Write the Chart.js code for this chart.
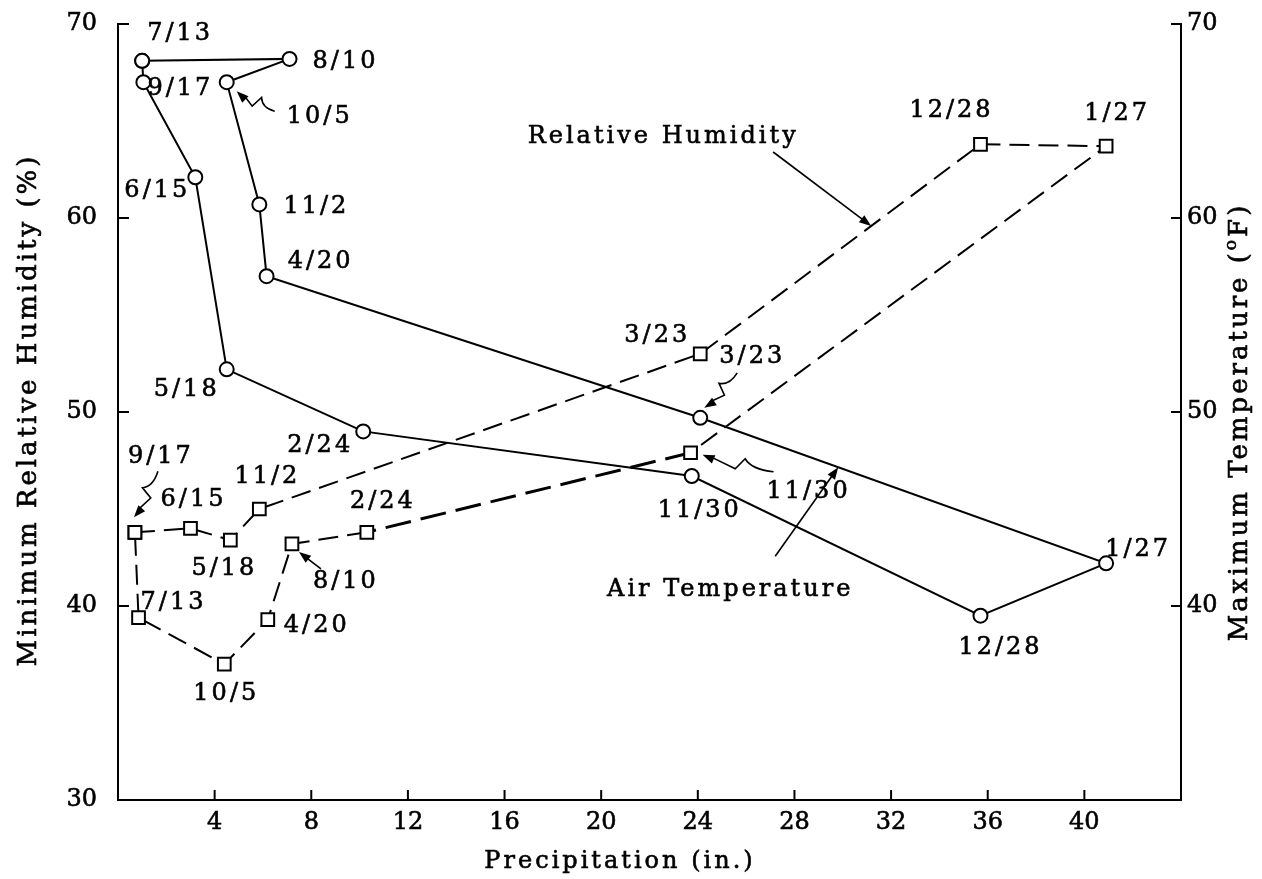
<!DOCTYPE html>
<html lang="en">
<head>
<meta charset="utf-8">
<title>Relative humidity and air temperature against precipitation</title>
<script src="https://cdn.jsdelivr.net/npm/chart.js@4.4.1/dist/chart.umd.min.js"></script>
<style>
  html, body { margin: 0; padding: 0; background: #fff; }
  canvas { display: block; }
</style>
</head>
<body>
<canvas id="chart" width="1262" height="879"></canvas>
<script>
// sampling dates
const dates = ['3/23', '4/20', '5/18', '6/15', '7/13', '8/10', '9/17', '10/5', '11/2', '11/30', '12/28', '1/27', '2/24'];

// minimum relative humidity (%), squares on a dashed line, left axis
const humidityPrecip = [24.1, 6.2, 4.65, 3.0, 0.85, 7.2, 0.7, 4.4, 5.85, 23.7, 35.7, 40.9, 10.3];
const humidity = [53.0, 39.3, 43.4, 44.0, 39.4, 43.2, 43.8, 37.0, 45.0, 47.9, 63.8, 63.7, 43.8];

// maximum air temperature (F), circles on a solid line, right axis
const temperaturePrecip = [24.1, 6.15, 4.5, 3.2, 1.0, 7.1, 1.05, 4.5, 5.85, 23.75, 35.7, 40.9, 10.15];
const temperature = [49.7, 57.0, 52.2, 62.1, 68.1, 68.2, 67.0, 67.0, 60.7, 46.7, 39.5, 42.2, 49.0];

// order in which the points are joined on the figure
const humidityPath = ['9/17', '6/15', '5/18', '11/2', '3/23', '12/28', '1/27', '11/30', '2/24', '8/10', '4/20', '10/5', '7/13', '9/17'];
const temperaturePath = ['7/13', '8/10', '10/5', '11/2', '4/20', '3/23', '1/27', '12/28', '11/30', '2/24', '5/18', '6/15', '9/17', '7/13'];

// tick labels
const precipTicks = [4, 8, 12, 16, 20, 24, 28, 32, 36, 40];
const humidityTicks = [30, 40, 50, 60, 70];
const temperatureTicks = [40, 50, 60, 70];

const FONT = '"DejaVu Serif", "Liberation Serif", serif';

// where each date label sits relative to its marker (px)
const humidityLabelOffsets = {
    '9/17': [26, -76], '6/15': [3, -29], '5/18': [-6, 29], '11/2': [8, -32],
    '7/13': [35, -15], '10/5': [2, 30], '4/20': [49, 6], '8/10': [54, 38],
    '2/24': [16, -31], '3/23': [-43, -18], '11/30': [118, 39], '12/28': [-29, -34], '1/27': [11, -32]
};
const temperatureLabelOffsets = {
    '7/13': [38, -27], '8/10': [56, 3], '9/17': [37, 7], '10/5': [93, 35],
    '6/15': [-38, 14], '11/2': [57, 2], '4/20': [54, -14], '5/18': [-40, 20],
    '2/24': [-43, 14], '3/23': [52, -61], '11/30': [8, 35], '12/28': [20, 32], '1/27': [32, -14]
};

// small pointers from a label to its marker, offsets from the marker
const pointers = [
    { series: 'temperature', date: '10/5', from: [48, 29], to: [10, 9], squiggle: true },
    { series: 'temperature', date: '3/23', from: [37, -45], to: [4, -10], squiggle: true },
    { series: 'humidity', date: '9/17', from: [23, -61], to: [-1, -15], squiggle: true },
    { series: 'humidity', date: '8/10', from: [29, 25], to: [7, 8], squiggle: false },
    { series: 'humidity', date: '11/30', from: [83, 19], to: [12, 2], squiggle: true }
];

// series names with an arrow to a point part way along one segment
const callouts = [
    { text: 'Relative Humidity', series: 'humidity', a: '3/23', b: '12/28', t: 0.61, label: [-208, -89], tail: [-98, -74] },
    { text: 'Air Temperature', series: 'temperature', a: '3/23', b: '1/27', t: 0.34, label: [-108, 122], tail: [-63, 89] }
];

function pathPoints(path, xs, ys) {
    return path.map(d => {
        const i = dates.indexOf(d);
        return { x: xs[i], y: ys[i] };
    });
}

function markerPixel(chart, series, date) {
    const i = dates.indexOf(date);
    if (series === 'humidity') {
        return { x: chart.scales.x.getPixelForValue(humidityPrecip[i]), y: chart.scales.y.getPixelForValue(humidity[i]) };
    }
    return { x: chart.scales.x.getPixelForValue(temperaturePrecip[i]), y: chart.scales.y2.getPixelForValue(temperature[i]) };
}

function arrowHead(ctx, from, to) {
    const ang = Math.atan2(to.y - from.y, to.x - from.x);
    const len = 12, half = 4.5;
    ctx.beginPath();
    ctx.moveTo(to.x, to.y);
    ctx.lineTo(to.x - len * Math.cos(ang) + half * Math.sin(ang), to.y - len * Math.sin(ang) - half * Math.cos(ang));
    ctx.lineTo(to.x - len * Math.cos(ang) - half * Math.sin(ang), to.y - len * Math.sin(ang) + half * Math.cos(ang));
    ctx.closePath();
    ctx.fill();
}

function drawArrow(ctx, from, to, squiggle) {
    const dx = to.x - from.x, dy = to.y - from.y;
    const d = Math.hypot(dx, dy);
    const nx = -dy / d, ny = dx / d;
    ctx.beginPath();
    ctx.moveTo(from.x, from.y);
    let last = from;
    if (squiggle) {
        const a = { x: from.x + dx * 0.42 + nx * 6, y: from.y + dy * 0.42 + ny * 6 };
        const b = { x: from.x + dx * 0.52 - nx * 6, y: from.y + dy * 0.52 - ny * 6 };
        ctx.quadraticCurveTo(from.x + dx * 0.3 - nx * 3, from.y + dy * 0.3 - ny * 3, a.x, a.y);
        ctx.lineTo(b.x, b.y);
        last = b;
    }
    const end = { x: to.x - dx / d * 8, y: to.y - dy / d * 8 };
    ctx.lineTo(end.x, end.y);
    ctx.stroke();
    arrowHead(ctx, last, to);
}

// typewritten text on the scan is a little heavier than the plain font
function inkText(ctx, text, x, y) {
    ctx.fillText(text, x, y);
    ctx.strokeText(text, x, y);
}

const annotate = {
    id: 'annotate',
    afterDatasetsDraw(chart) {
        const ctx = chart.ctx;
        const { left, right, top, bottom } = chart.chartArea;
        const { x, y, y2 } = chart.scales;
        ctx.save();
        ctx.fillStyle = '#000';
        ctx.strokeStyle = '#000';
        ctx.lineCap = 'butt';

        // inward tick marks
        ctx.lineWidth = 2;
        ctx.beginPath();
        precipTicks.forEach(v => {
            const px = x.getPixelForValue(v);
            ctx.moveTo(px, bottom);
            ctx.lineTo(px, bottom - 10);
        });
        humidityTicks.filter(v => v > 30).forEach(v => {
            const py = y.getPixelForValue(v);
            ctx.moveTo(left, py);
            ctx.lineTo(left + 11, py);
        });
        temperatureTicks.forEach(v => {
            const py = y2.getPixelForValue(v);
            ctx.moveTo(right, py);
            ctx.lineTo(right - 10, py);
        });
        ctx.stroke();

        ctx.letterSpacing = '3px';
        ctx.textBaseline = 'middle';
        ctx.textAlign = 'center';
        ctx.font = '24px ' + FONT;
        ctx.lineWidth = 0.6;

        // date labels
        dates.forEach(d => {
            [['humidity', humidityLabelOffsets], ['temperature', temperatureLabelOffsets]].forEach(([s, offs]) => {
                const p = markerPixel(chart, s, d);
                const o = offs[d];
                inkText(ctx, d, p.x + o[0], p.y + o[1]);
            });
        });

        // series callouts
        const tips = callouts.map(c => {
            const pa = markerPixel(chart, c.series, c.a);
            const pb = markerPixel(chart, c.series, c.b);
            const tip = { x: pa.x + (pb.x - pa.x) * c.t, y: pa.y + (pb.y - pa.y) * c.t };
            inkText(ctx, c.text, tip.x + c.label[0], tip.y + c.label[1]);
            return tip;
        });

        // axis titles
        ctx.textBaseline = 'alphabetic';
        inkText(ctx, 'Precipitation (in.)', left + 502, bottom + 68);

        ctx.save();
        ctx.translate(left - 82, (top + bottom) / 2 - 2);
        ctx.rotate(-Math.PI / 2);
        ctx.font = '26px ' + FONT;
        inkText(ctx, 'Minimum Relative Humidity (%)', 0, 0);
        ctx.restore();

        ctx.save();
        ctx.translate(right + 66, (top + bottom) / 2 + 10);
        ctx.rotate(-Math.PI / 2);
        ctx.textAlign = 'left';
        const big = '26px ' + FONT, small = '17px ' + FONT;
        ctx.font = big;
        const w1 = ctx.measureText('Maximum Temperature (').width;
        const w3 = ctx.measureText('F)').width;
        ctx.font = small;
        const w2 = ctx.measureText('o').width;
        const sx = -(w1 + w2 + w3) / 2;
        ctx.font = big;
        inkText(ctx, 'Maximum Temperature (', sx, 0);
        ctx.font = small;
        inkText(ctx, 'o', sx + w1, -11);
        ctx.font = big;
        inkText(ctx, 'F)', sx + w1 + w2, 0);
        ctx.restore();

        // arrows
        ctx.lineWidth = 1.6;
        pointers.forEach(a => {
            const p = markerPixel(chart, a.series, a.date);
            drawArrow(ctx, { x: p.x + a.from[0], y: p.y + a.from[1] }, { x: p.x + a.to[0], y: p.y + a.to[1] }, a.squiggle);
        });
        callouts.forEach((c, i) => {
            const tip = tips[i];
            drawArrow(ctx, { x: tip.x + c.tail[0], y: tip.y + c.tail[1] }, tip, false);
        });

        ctx.restore();
    }
};

const tickFont = { family: FONT, size: 24 };
const tickStyle = { font: tickFont, color: '#000', textStrokeColor: '#000', textStrokeWidth: 0.6, autoSkip: false };
const axisBorder = { display: true, color: '#000', width: 2 };

function fixVertical(width) {
    return s => {
        s.width = width;
        s.paddingTop = 0;
        s.paddingBottom = 0;
    };
}

function heavyStretch(c) {
    const pair = [humidityPath[c.p0DataIndex], humidityPath[c.p1DataIndex]];
    return pair.includes('11/30') && pair.includes('2/24');
}

new Chart(document.getElementById('chart'), {
    type: 'scatter',
    data: {
        datasets: [
            {
                label: 'Air Temperature',
                data: pathPoints(temperaturePath, temperaturePrecip, temperature),
                yAxisID: 'y2',
                showLine: true,
                borderColor: '#000',
                borderWidth: 2,
                pointStyle: 'circle',
                pointRadius: 7,
                pointBorderWidth: 2,
                pointBorderColor: '#000',
                pointBackgroundColor: '#fff'
            },
            {
                label: 'Relative Humidity',
                data: pathPoints(humidityPath, humidityPrecip, humidity),
                yAxisID: 'y',
                showLine: true,
                borderColor: '#000',
                borderWidth: 2,
                borderDash: [20, 9],
                // the 2/24 to 11/30 stretch is inked heavier on the figure
                segment: {
                    borderWidth: c => heavyStretch(c) ? 3 : undefined,
                    borderDash: c => heavyStretch(c) ? [26, 10] : undefined
                },
                pointStyle: 'rect',
                pointRadius: 9,
                pointBorderWidth: 2,
                pointBorderColor: '#000',
                pointBackgroundColor: '#fff'
            }
        ]
    },
    options: {
        responsive: false,
        animation: false,
        devicePixelRatio: 1,
        layout: { padding: { top: 24, right: 0, bottom: 0, left: 0 } },
        plugins: {
            legend: { display: false },
            tooltip: { enabled: false }
        },
        scales: {
            x: {
                type: 'linear',
                position: 'bottom',
                min: 0,
                max: 44,
                afterBuildTicks: s => { s.ticks = precipTicks.map(v => ({ value: v })); },
                afterFit: s => { s.height = 79; s.paddingLeft = 0; s.paddingRight = 0; },
                ticks: { ...tickStyle, padding: 8, maxRotation: 0 },
                grid: { display: false, drawTicks: false },
                border: axisBorder
            },
            y: {
                type: 'linear',
                position: 'left',
                min: 30,
                max: 70,
                afterBuildTicks: s => { s.ticks = humidityTicks.map(v => ({ value: v })); },
                afterFit: fixVertical(118),
                ticks: { ...tickStyle, padding: 21 },
                grid: { display: false, drawTicks: false },
                border: axisBorder
            },
            y2: {
                type: 'linear',
                position: 'right',
                min: 30,
                max: 70,
                afterBuildTicks: s => { s.ticks = temperatureTicks.map(v => ({ value: v })); },
                afterFit: fixVertical(81),
                ticks: { ...tickStyle, padding: 6 },
                grid: { display: false, drawTicks: false },
                border: axisBorder
            }
        }
    },
    plugins: [annotate]
});
</script>
</body>
</html>
